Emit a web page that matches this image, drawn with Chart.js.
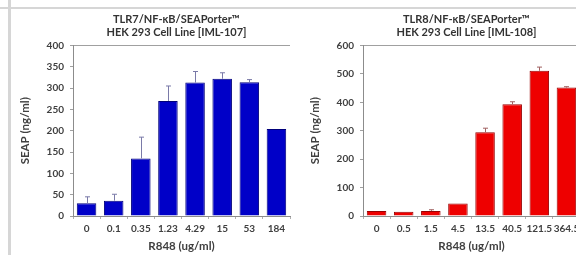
<!DOCTYPE html>
<html>
<head>
<meta charset="utf-8">
<script src="https://cdn.jsdelivr.net/npm/chart.js@4.4.1/dist/chart.umd.min.js"></script>
<style>
  html, body { margin: 0; padding: 0; background: #fff; }
  body { width: 576px; height: 255px; overflow: hidden; position: relative; }
  .hline { position: absolute; left: 0; top: 7px; width: 576px; height: 2px; background: #d6d6d6; }
  .vline { position: absolute; left: 8px; top: 0; width: 3px; height: 255px; background: #d6d6d6; }
  canvas { position: absolute; top: 10px; }
  #tlr7 { left: 12px; }
  #tlr8 { left: 302px; }
</style>
</head>
<body>
<div class="hline"></div>
<div class="vline"></div>
<canvas id="tlr7" width="290" height="245"></canvas>
<canvas id="tlr8" width="290" height="245"></canvas>
<script>
const tlr7Doses = ['0', '0.1', '0.35', '1.23', '4.29', '15', '53', '184'];
const tlr7Seap = [30, 36, 135, 270, 313, 322, 314, 204];
const tlr7Err = [15, 15, 50, 35, 26, 14, 6, 0];

const tlr8Doses = ['0', '0.5', '1.5', '4.5', '13.5', '40.5', '121.5', '364.5'];
const tlr8Seap = [18, 15, 18, 44, 295, 393, 511, 452];
const tlr8Err = [0, 0, 4, 0, 14, 9, 13, 3];

const fontFamily = 'Lato, "Liberation Sans", sans-serif';

// draws the upper half of each error bar with a small cap
const errorBars = {
  id: 'errorBars',
  afterDatasetsDraw(chart, args, opts) {
    const ctx = chart.ctx;
    const ds = chart.data.datasets[0];
    const yScale = chart.scales.y;
    ctx.save();
    ctx.strokeStyle = opts.color;
    ctx.lineWidth = 1;
    chart.getDatasetMeta(0).data.forEach((bar, i) => {
      if (!ds.errors[i]) return;
      const yTop = yScale.getPixelForValue(ds.data[i] + ds.errors[i]);
      const x = Math.round(bar.x) + 0.5;
      ctx.beginPath();
      ctx.moveTo(x, bar.y);
      ctx.lineTo(x, yTop);
      ctx.moveTo(x - 2.5, yTop);
      ctx.lineTo(x + 2.5, yTop);
      ctx.stroke();
    });
    ctx.restore();
  }
};

// two-line heading, sits a little left of the plot centre like the original
const heading = {
  id: 'heading',
  afterDraw(chart, args, opts) {
    const ctx = chart.ctx;
    const area = chart.chartArea;
    const x = (area.left + area.right) / 2 - 5;
    ctx.save();
    ctx.font = 'bold 11px ' + fontFamily;
    ctx.fillStyle = '#333';
    ctx.textAlign = 'center';
    ctx.textBaseline = 'middle';
    opts.lines.forEach((t, i) => ctx.fillText(t, x, 9.5 + i * 13));
    ctx.restore();
  }
};

function createChart(id, title, doses, values, errors, max, step, fill, border, errColor) {
  return new Chart(document.getElementById(id), {
    type: 'bar',
    data: {
      labels: doses,
      datasets: [{
        data: values,
        errors: errors,
        backgroundColor: fill,
        borderColor: border,
        borderWidth: 1,
        barPercentage: 0.72,
        categoryPercentage: 1
      }]
    },
    options: {
      responsive: false,
      animation: false,
      devicePixelRatio: 1,
      layout: { padding: { left: 0, right: 12, top: 35.5, bottom: 0 } },
      scales: {
        x: {
          afterFit: (scale) => { scale.height = 39; },
          grid: {
            drawOnChartArea: false,
            tickLength: 3,
            tickColor: '#b0b0b0'
          },
          border: { color: '#8c8c8c' },
          ticks: {
            padding: 4,
            autoSkip: false,
            maxRotation: 0,
            minRotation: 0,
            color: '#404040',
            font: { family: fontFamily, size: 10, weight: 'bold' }
          },
          title: {
            display: true,
            text: 'R848 (ug/ml)',
            color: '#404040',
            padding: { top: 0, bottom: 2 },
            font: { family: fontFamily, size: 11.5, weight: 'bold' }
          }
        },
        y: {
          min: 0,
          max: max,
          afterFit: (scale) => { scale.width = 61; },
          grid: {
            color: (c) => (c.tick && c.tick.value === max ? '#a0a0a0' : 'rgba(0,0,0,0)'),
            tickLength: 3,
            tickColor: '#a0a0a0'
          },
          border: { color: '#8c8c8c' },
          ticks: {
            stepSize: step,
            padding: 6,
            color: '#404040',
            font: { family: fontFamily, size: 10, weight: 'bold' }
          },
          title: {
            display: true,
            text: 'SEAP (ng/ml)',
            color: '#404040',
            padding: { top: 6, bottom: 0 },
            font: { family: fontFamily, size: 11.5, weight: 'bold' }
          }
        }
      },
      plugins: {
        legend: { display: false },
        tooltip: { enabled: false },
        heading: { lines: title },
        errorBars: { color: errColor }
      }
    },
    plugins: [errorBars, heading]
  });
}

createChart('tlr7', ['TLR7/NF-\u03BAB/SEAPorter\u2122', 'HEK 293 Cell Line [IML-107]'],
  tlr7Doses, tlr7Seap, tlr7Err, 400, 50, '#0000c8', '#00007a', '#7a7aa8');
createChart('tlr8', ['TLR8/NF-\u03BAB/SEAPorter\u2122', 'HEK 293 Cell Line [IML-108]'],
  tlr8Doses, tlr8Seap, tlr8Err, 600, 100, '#ee0000', '#990000', '#a06060');
</script>
</body>
</html>
